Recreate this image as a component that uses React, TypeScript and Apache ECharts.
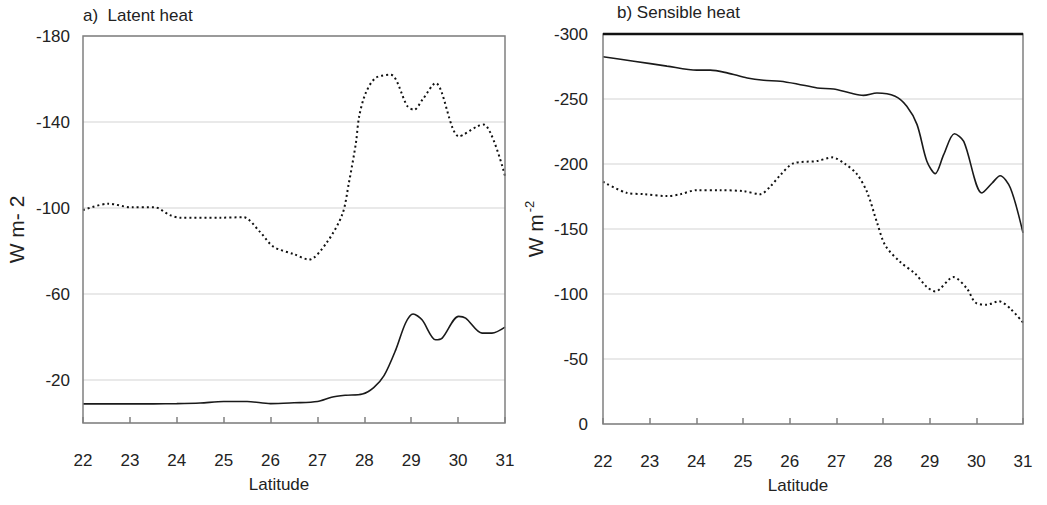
import React, { useEffect, useRef } from "react";
import * as echarts from "echarts";

// Panel a) Latent heat
const latentSolidLat = [22, 22.5, 23, 23.5, 24, 24.5, 25, 25.5, 26, 26.5, 27, 27.3, 27.6, 27.96, 28.2, 28.42, 28.67, 28.88, 29.04, 29.23, 29.52, 29.66, 30.01, 30.16, 30.51, 30.72, 31];
const latentSolidVal = [-8.9, -8.9, -8.9, -8.9, -9, -9.3, -10, -10, -9, -9.4, -10, -12, -12.9, -13.5, -16.5, -22, -34, -46.5, -50.7, -48, -38.7, -39.5, -49.6, -48.8, -41.8, -41.8, -44.6];
const latentDotLat = [22, 22.54, 23.04, 23.53, 23.85, 24.07, 24.92, 25.42, 25.77, 26.06, 26.5, 26.82, 27.2, 27.53, 27.67, 27.82, 27.89, 28.03, 28.24, 28.56, 28.92, 29.06, 29.24, 29.52, 30.02, 30.41, 30.55, 31];
const latentDotVal = [-99, -102, -100.3, -100.3, -96.7, -95.5, -95.5, -95.7, -89, -82, -78.5, -76, -84, -97, -111.6, -130.2, -142.6, -153.5, -160.5, -162, -147.3, -145.7, -150.4, -158.1, -133.3, -138, -138.8, -115];

// Panel b) Sensible heat
const sensSolidLat = [22, 22.66, 23.37, 24.01, 24.3, 24.66, 25.09, 25.44, 25.8, 26.16, 26.59, 26.94, 27.3, 27.58, 27.87, 28.26, 28.51, 28.73, 28.94, 29.12, 29.3, 29.53, 29.73, 30.12, 30.34, 30.51, 30.73, 31];
const sensSolidVal = [-282.5, -279.1, -275.3, -272.2, -272.2, -270.1, -266.2, -264.4, -263.7, -261.6, -258.5, -257.7, -254.6, -252.8, -254.6, -252.1, -244.4, -230.3, -202.1, -192.6, -207.2, -223.3, -217.4, -177.7, -185.4, -191, -181.5, -147];
const sensDotLat = [22, 22.51, 22.87, 23.37, 23.66, 24.01, 24.51, 25.01, 25.37, 25.58, 25.8, 26.08, 26.59, 26.91, 27.19, 27.44, 27.66, 27.87, 28.05, 28.37, 28.69, 28.94, 29.12, 29.51, 29.8, 29.98, 30.23, 30.48, 30.73, 31];
const sensDotVal = [-186.3, -177.8, -176.8, -175.3, -176.8, -179.9, -179.9, -179.1, -176.8, -182.5, -191.5, -200.5, -202.3, -205.1, -200, -192.3, -178.3, -155.2, -137.3, -124.6, -115.6, -105.4, -102, -113, -104.1, -93.4, -91.8, -94.4, -88.7, -78];

const titles = ["a)  Latent heat", "b) Sensible heat"];
const xName = "Latitude";

const zip = (a: number[], b: number[]) => a.map((v, i) => [v, b[i]]);

const FONT = "'Liberation Sans', Arial, sans-serif";
const G1 = { left: 83, top: 36, width: 422, height: 387 };
const G2 = { left: 603, top: 34, width: 420, height: 390 };

export default function App() {
  const ref = useRef<HTMLDivElement>(null);
  useEffect(() => {
    const chart = echarts.init(ref.current!, undefined, { renderer: "svg" });
    const xAxisBase = (gridIndex: number) => ({
      type: "value",
      gridIndex,
      min: 22,
      max: 31,
      interval: 1,
      name: xName,
      nameLocation: "middle",
      nameGap: 53,
      nameTextStyle: { fontFamily: FONT, fontSize: 17, color: "#222", padding: [0, 30, 0, 0] },
      axisLine: { show: false },
      axisTick: { show: true, inside: true, length: 6, lineStyle: { color: "#808080", width: 1.5 } },
      axisLabel: { margin: 29, fontFamily: FONT, fontSize: 17, color: "#222" },
      splitLine: { show: false },
    });
    const solid = { color: "#1a1a1a", width: 1.6 };
    const dotted = { color: "#111", width: 2, type: [2, 3] };
    chart.setOption({
      animation: false,
      backgroundColor: "#fff",
      title: [
        { text: titles[0], left: 83, top: 7, padding: 0, textStyle: { fontFamily: FONT, fontSize: 17, fontWeight: "normal", color: "#222" } },
        { text: titles[1], left: 617, top: 4, padding: 0, textStyle: { fontFamily: FONT, fontSize: 17, fontWeight: "normal", color: "#222" } },
      ],
      grid: [
        { ...G1, containLabel: false },
        { ...G2, containLabel: false },
      ],
      xAxis: [xAxisBase(0), xAxisBase(1)],
      yAxis: [
        {
          type: "value",
          gridIndex: 0,
          min: -180,
          max: 0,
          interval: 40,
          inverse: true,
          name: "W m- 2",
          nameLocation: "middle",
          nameGap: 56,
          nameTextStyle: { fontFamily: FONT, fontSize: 21, color: "#222" },
          axisLine: { show: false },
          axisTick: { show: false },
          axisLabel: {
            margin: 13,
            fontFamily: FONT,
            fontSize: 17,
            color: "#222",
            formatter: (v: number) => (v === 0 ? "" : String(v)),
          },
          splitLine: { lineStyle: { color: "#e2e2e2", width: 1.5 } },
        },
        {
          type: "value",
          gridIndex: 1,
          min: -300,
          max: 0,
          interval: 50,
          inverse: true,
          name: "W m{sup|-2}",
          nameLocation: "middle",
          nameGap: 56,
          nameTextStyle: {
            fontFamily: FONT,
            fontSize: 21,
            color: "#222",
            rich: { sup: { fontFamily: FONT, fontSize: 13, color: "#222", padding: [0, 0, 11, 2] } },
          },
          axisLine: { show: false },
          axisTick: { show: false },
          axisLabel: { margin: 15, fontFamily: FONT, fontSize: 17, color: "#222" },
          splitLine: { lineStyle: { color: "#e2e2e2", width: 1.5 } },
        },
      ],
      series: [
        { type: "line", xAxisIndex: 0, yAxisIndex: 0, data: zip(latentDotLat, latentDotVal), smooth: 0.3, symbol: "none", lineStyle: dotted },
        { type: "line", xAxisIndex: 0, yAxisIndex: 0, data: zip(latentSolidLat, latentSolidVal), smooth: 0.3, symbol: "none", lineStyle: solid },
        { type: "line", xAxisIndex: 1, yAxisIndex: 1, data: zip(sensDotLat, sensDotVal), smooth: 0.3, symbol: "none", lineStyle: dotted },
        { type: "line", xAxisIndex: 1, yAxisIndex: 1, data: zip(sensSolidLat, sensSolidVal), smooth: 0.3, symbol: "none", lineStyle: solid },
      ],
      graphic: [
        { type: "rect", z: 100, silent: true, shape: { x: G1.left, y: G1.top, width: G1.width, height: G1.height }, style: { fill: "none", stroke: "#808080", lineWidth: 1.5 } },
        { type: "rect", z: 100, silent: true, shape: { x: G2.left, y: G2.top, width: G2.width, height: G2.height }, style: { fill: "none", stroke: "#808080", lineWidth: 1.5 } },
        { type: "line", z: 101, silent: true, shape: { x1: G2.left, y1: G2.top, x2: G2.left + G2.width, y2: G2.top }, style: { stroke: "#111", lineWidth: 2.5 } },
      ],
    });
    return () => chart.dispose();
  }, []);
  return <div ref={ref} style={{ position: "absolute", left: 0, top: 0, width: 1047, height: 505 }} />;
}
